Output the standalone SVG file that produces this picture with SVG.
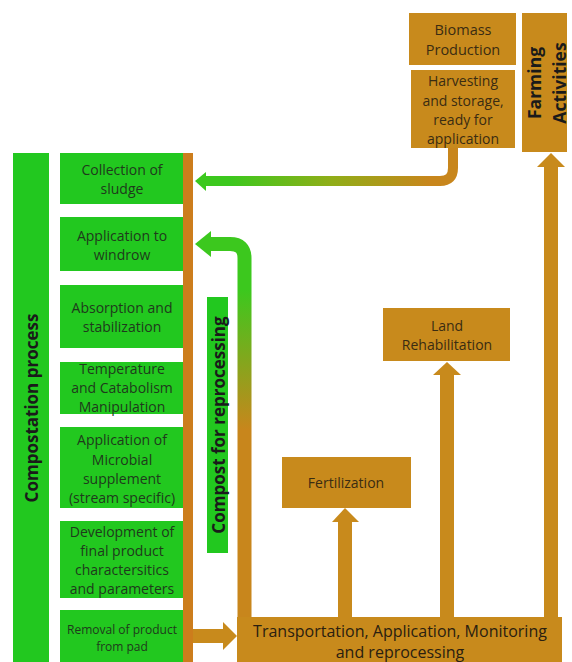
<svg xmlns="http://www.w3.org/2000/svg" width="572" height="662" viewBox="0 0 572 662">
<style>
.g{fill:#22c81f}
.b{fill:#c88a1c}
.bar{fill:#cc7d1c}
.t{font-family:"Open Sans","Noto Sans",sans-serif;font-size:14px;fill:#1f3a1c;text-anchor:middle}
.tb{font-family:"Open Sans","Noto Sans",sans-serif;font-size:14px;fill:#3a2c12;text-anchor:middle}
.v{font-family:"Open Sans","Noto Sans",sans-serif;font-weight:bold;font-size:17px;fill:#1a1a1a;text-anchor:middle}
</style>
<defs>
<linearGradient id="gh" gradientUnits="userSpaceOnUse" x1="230" y1="0" x2="430" y2="0">
<stop offset="0" stop-color="#3cc81e"/><stop offset="0.5" stop-color="#8fae18"/><stop offset="1" stop-color="#c8861c"/>
</linearGradient>
<linearGradient id="gv" gradientUnits="userSpaceOnUse" x1="0" y1="290" x2="0" y2="430">
<stop offset="0" stop-color="#3cc81e"/><stop offset="1" stop-color="#c8861c"/>
</linearGradient>
</defs>
<rect width="572" height="662" fill="#fff"/>

<g id="compostation-process">
<rect class="g" x="13" y="153" width="36" height="509"/>
<text class="v" transform="translate(38,408) rotate(-90)">Compostation process</text>
</g>
<g id="side-bar"><rect class="bar" x="183" y="153" width="10" height="509"/></g>

<g id="collection">
<rect class="g" x="60" y="153" width="123" height="51"/>
<text class="t" x="122" y="175">Collection of</text>
<text class="t" x="122" y="193.5">sludge</text>
</g>
<g id="application-windrow">
<rect class="g" x="60" y="217" width="123" height="54"/>
<text class="t" x="122" y="241">Application to</text>
<text class="t" x="122" y="260">windrow</text>
</g>
<g id="absorption">
<rect class="g" x="60" y="285" width="123" height="63"/>
<text class="t" x="122" y="313">Absorption and</text>
<text class="t" x="122" y="332">stabilization</text>
</g>
<g id="temperature">
<rect class="g" x="60" y="362" width="123" height="52"/>
<text class="t" x="122" y="374">Temperature</text>
<text class="t" x="122" y="393">and Catabolism</text>
<text class="t" x="122" y="412">Manipulation</text>
</g>
<g id="microbial">
<rect class="g" x="60" y="427" width="123" height="81"/>
<text class="t" x="122" y="445">Application of</text>
<text class="t" x="122" y="464.5">Microbial</text>
<text class="t" x="122" y="484">supplement</text>
<text class="t" x="122" y="503">(stream specific)</text>
</g>
<g id="development">
<rect class="g" x="60" y="521" width="123" height="77"/>
<text class="t" x="122" y="537">Development of</text>
<text class="t" x="122" y="556">final product</text>
<text class="t" x="122" y="575">charactersitics</text>
<text class="t" x="122" y="594">and parameters</text>
</g>
<g id="removal">
<rect class="g" x="60" y="610" width="123" height="52"/>
<text class="t" x="122" y="633.5" style="font-size:12px">Removal of product</text>
<text class="t" x="122" y="650.5" style="font-size:12px">from pad</text>
</g>

<g id="compost-reprocessing">
<rect class="g" x="207" y="297" width="21" height="256"/>
<text class="v" transform="translate(225,425) rotate(-90)">Compost for reprocessing</text>
</g>

<g id="biomass">
<rect class="b" x="409" y="13" width="107" height="52"/>
<text class="tb" x="463" y="35" style="font-size:14.5px">Biomass</text>
<text class="tb" x="463" y="55" style="font-size:14.5px">Production</text>
</g>
<g id="harvesting">
<rect class="b" x="411" y="70" width="104" height="78"/>
<text class="tb" x="463" y="86">Harvesting</text>
<text class="tb" x="463" y="106">and storage,</text>
<text class="tb" x="463" y="125">ready for</text>
<text class="tb" x="463" y="144">application</text>
</g>
<g id="farming">
<rect class="b" x="522" y="13" width="45" height="139"/>
<text class="v" style="font-size:17.5px" transform="translate(541,83) rotate(-90)">Farming</text>
<text class="v" style="font-size:17.5px" transform="translate(566,83) rotate(-90)">Activities</text>
</g>
<g id="land-rehabilitation">
<rect class="b" x="383" y="308" width="127" height="53"/>
<text class="tb" x="447" y="331">Land</text>
<text class="tb" x="447" y="350">Rehabilitation</text>
</g>
<g id="fertilization">
<rect class="b" x="282" y="457" width="129" height="51"/>
<text class="tb" x="346" y="488">Fertilization</text>
</g>

<g id="connectors">
<path d="M453 148 V168 Q453 181 440 181 H204" fill="none" stroke="url(#gh)" stroke-width="10"/>
<polygon points="195,181 206,172 206,191" fill="#3cc81e"/>
<path d="M244.5 620 V258 Q244.5 244 230 244 H209" fill="none" stroke="url(#gv)" stroke-width="14"/>
<polygon points="195,244 211,231 211,257" fill="#3cc81e"/>
<rect class="b" x="193" y="629" width="31" height="14"/>
<polygon class="b" points="223,622 237,636 223,650"/>
<rect class="b" x="544" y="166" width="14" height="452"/>
<polygon class="b" points="537,167 551,153 565,167"/>
<rect class="b" x="440" y="374" width="14" height="244"/>
<polygon class="b" points="433,375 447,362 461,375"/>
<rect class="b" x="338" y="521" width="14" height="97"/>
<polygon class="b" points="332,522 345,508 359,522"/>
</g>

<g id="transportation">
<rect class="b" x="237" y="617" width="325" height="45"/>
<text class="tb" x="400" y="637" style="font-size:16px;fill:#2a2010">Transportation, Application, Monitoring</text>
<text class="tb" x="400" y="658" style="font-size:16px;fill:#2a2010">and reprocessing</text>
</g>
</svg>
